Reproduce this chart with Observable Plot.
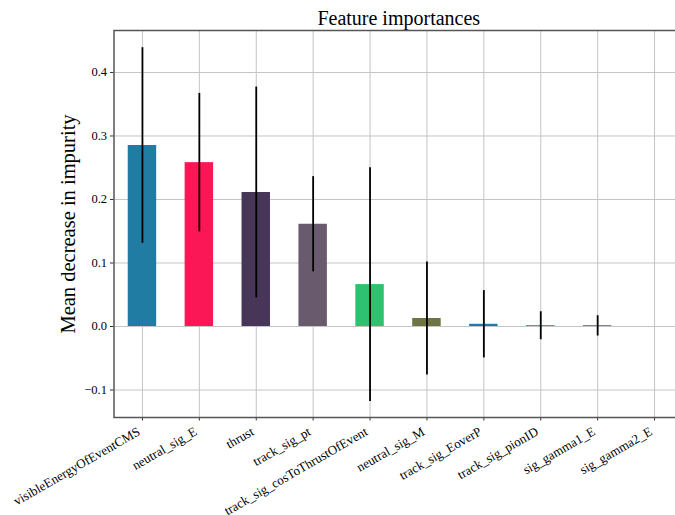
<!DOCTYPE html>
<html>
<head>
<meta charset="utf-8">
<script src="https://cdn.jsdelivr.net/npm/d3@7"></script>
<script src="https://cdn.jsdelivr.net/npm/@observablehq/plot@0.6"></script>
<style>
  html, body { margin: 0; padding: 0; background: #fff; overflow: hidden; }
  svg { display: block; }
</style>
</head>
<body>
<div id="chart"></div>
<script>
const features = ["visibleEnergyOfEventCMS", "neutral_sig_E", "thrust", "track_sig_pt",
  "track_sig_cosToThrustOfEvent", "neutral_sig_M", "track_sig_EoverP", "track_sig_pionID",
  "sig_gamma1_E", "sig_gamma2_E"];
const importances = [0.285, 0.258, 0.211, 0.161, 0.066, 0.0126, 0.0035, 0.0012, 0.001, 0.0];
const stds = [0.154, 0.109, 0.166, 0.075, 0.184, 0.089, 0.053, 0.022, 0.016, 0.0];
const palette = ["#217ca3", "#fb1656", "#483659", "#6a5a6e", "#2ec16f", "#6e7443"];
const yTicks = [-0.1, 0.0, 0.1, 0.2, 0.3, 0.4];
const yDomain = [-0.1433, 0.4661];
const titleText = "Feature importances";
const yLabel = "Mean decrease in impurity";

const data = features.map((f, i) => ({
  feature: f,
  value: importances[i],
  lo: importances[i] - stds[i],
  hi: importances[i] + stds[i],
  color: palette[i % palette.length]
}));

const font = "'Liberation Serif', serif";
const mLeft = 113.5, mRight = 682.5, mTop = 30, mBottom = 417;
const spine = "#555";

const chart = Plot.plot({
  width: 675,
  height: 515,
  marginTop: mTop,
  marginBottom: 515 - mBottom,
  marginLeft: mLeft,
  marginRight: 0,
  style: { fontFamily: font, background: "#fff", color: "#000", overflow: "hidden" },
  x: { type: "band", domain: features, range: [mLeft, mRight], round: false, paddingInner: 0.5, paddingOuter: 0.25, label: null },
  y: { domain: yDomain, range: [mBottom, mTop], label: null },
  marks: [
    Plot.ruleY(yTicks, { y: d => d, stroke: "#c4c4c4", strokeWidth: 1 }),
    Plot.ruleX(features, { x: d => d, stroke: "#c4c4c4", strokeWidth: 1 }),
    Plot.barY(data, { x: "feature", y: "value", fill: "color" }),
    Plot.ruleX(data.filter(d => d.hi - d.lo > 0), { x: "feature", y1: "lo", y2: "hi", stroke: "#000", strokeWidth: 1.8 }),
    Plot.axisY({ ticks: yTicks, tickSize: 3.5, tickPadding: 3.5, tickFormat: d3.format(".1f"), fontSize: 12.5, label: null, stroke: "#333" }),
    Plot.axisX({ tickSize: 3.5, tickFormat: () => "", label: null, stroke: "#333" }),
    Plot.text(features, {
      x: d => d, frameAnchor: "bottom", dy: 13, dx: -3.5,
      rotate: -30, textAnchor: "end", lineAnchor: "middle", fontSize: 13, fill: "#000"
    }),
    Plot.text([yLabel], {
      frameAnchor: "left", dx: -45.5, rotate: -90, textAnchor: "middle", lineAnchor: "middle",
      fontSize: 20.5, fill: "#000"
    }),
    Plot.text([titleText], {
      frameAnchor: "top", dx: 4, dy: -6, lineAnchor: "bottom", textAnchor: "middle",
      fontSize: 20, fill: "#000"
    }),
    Plot.frame({ stroke: spine, strokeWidth: 1.5, insetRight: -20 })
  ]
});
document.getElementById("chart").appendChild(chart);
</script>
</body>
</html>
